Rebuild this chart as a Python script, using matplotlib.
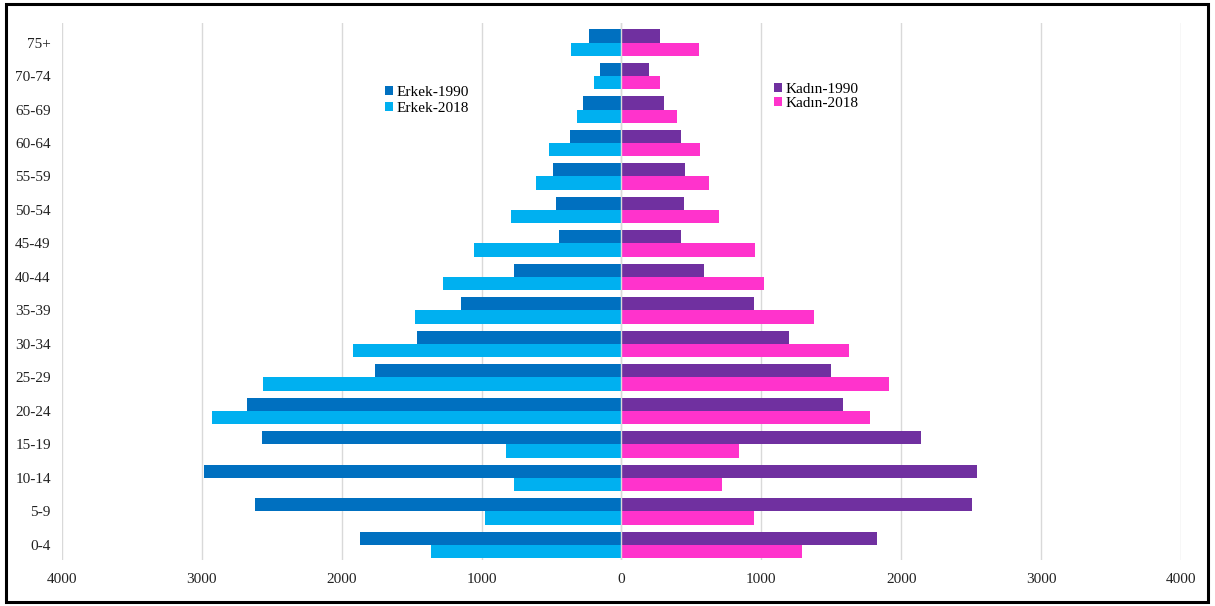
import matplotlib.pyplot as plt
import matplotlib.patches as mpatches
from matplotlib.ticker import FuncFormatter
import numpy as np

plt.rcParams['font.family'] = ['Liberation Serif', 'DejaVu Serif']

# Age groups (bottom to top)
ages = ["0-4", "5-9", "10-14", "15-19", "20-24", "25-29", "30-34", "35-39",
        "40-44", "45-49", "50-54", "55-59", "60-64", "65-69", "70-74", "75+"]

# Male (Erkek)
erkek_1990 = [1867, 2623, 2986, 2569, 2674, 1762, 1462, 1147,
              768, 445, 465, 487, 371, 278, 150, 232]
erkek_2018 = [1365, 977, 771, 822, 2926, 2561, 1918, 1479,
              1278, 1054, 790, 609, 516, 320, 195, 360]

# Female (Kadın)
kadin_1990 = [1826, 2503, 2545, 2143, 1587, 1500, 1199, 949,
              593, 424, 444, 455, 424, 303, 199, 278]
kadin_2018 = [1292, 944, 722, 837, 1775, 1910, 1626, 1376,
              1017, 955, 697, 626, 562, 399, 272, 553]

xticks = [-4000, -3000, -2000, -1000, 0, 1000, 2000, 3000, 4000]

c_e90 = "#0070C0"
c_e18 = "#00B0F0"
c_k90 = "#7030A0"
c_k18 = "#FF33CC"

fig = plt.figure(figsize=(12.15, 6.06), dpi=100)
ax = fig.add_axes([0.051, 0.0759, 0.921, 0.886])

y = np.arange(len(ages))
h = 0.4

b1 = ax.barh(y + h / 2, -np.array(erkek_1990), height=h, color=c_e90, label="Erkek-1990", zorder=3)
b2 = ax.barh(y - h / 2, -np.array(erkek_2018), height=h, color=c_e18, label="Erkek-2018", zorder=3)
b3 = ax.barh(y + h / 2, kadin_1990, height=h, color=c_k90, label="Kadın-1990", zorder=3)
b4 = ax.barh(y - h / 2, kadin_2018, height=h, color=c_k18, label="Kadın-2018", zorder=3)

ax.axvline(0, color="#D9D9D9", lw=1, zorder=4)

ax.set_xlim(-4000, 4000)
ax.set_ylim(-0.45, 15.58)
ax.set_xticks(xticks)
ax.xaxis.set_major_formatter(FuncFormatter(lambda v, p: f"{abs(int(v))}"))
ax.set_yticks(y)
ax.set_yticklabels(ages)
ax.tick_params(axis="both", length=0, labelsize=11, colors="#222222")
ax.tick_params(axis="x", pad=9)
ax.tick_params(axis="y", pad=8)
ax.grid(axis="x", color="#D9D9D9", lw=1, zorder=0)
ax.set_axisbelow(True)
for s in ax.spines.values():
    s.set_visible(False)

leg1 = fig.legend(handles=[b1, b2], loc="upper left", bbox_to_anchor=(377 / 1215, 1 - 78 / 606),
                  frameon=False, fontsize=11, borderpad=0, handlelength=0.55, handleheight=0.55,
                  handletextpad=0.25, labelspacing=0.2)
leg2 = fig.legend(handles=[b3, b4], loc="upper left", bbox_to_anchor=(766 / 1215, 1 - 75 / 606),
                  frameon=False, fontsize=11, borderpad=0, handlelength=0.55, handleheight=0.55,
                  handletextpad=0.25, labelspacing=0.1)

# outer frame
frame = mpatches.Rectangle((6 / 1215, 4 / 606), 1202 / 1215, 598 / 606, transform=fig.transFigure,
                           fill=False, edgecolor="black", lw=2.2)
fig.patches.append(frame)

plt.savefig("out.png", dpi=100)
